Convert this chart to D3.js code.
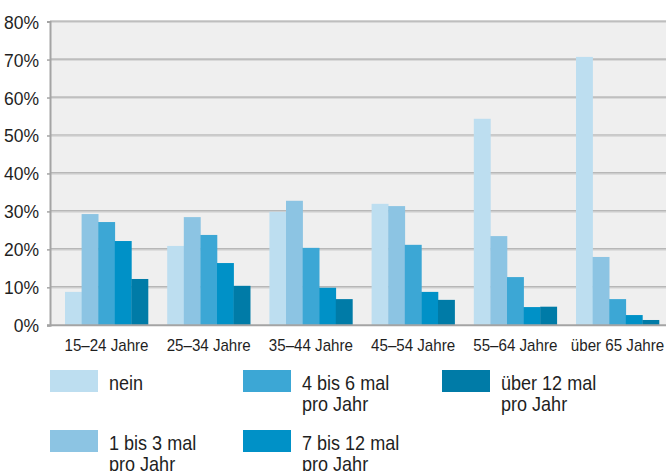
<!DOCTYPE html>
<html>
<head>
<meta charset="utf-8">
<script src="https://cdn.jsdelivr.net/npm/d3@7"></script>
<style>
  html, body { margin: 0; padding: 0; background: #fff; }
  svg { display: block; }
  text { font-family: "Liberation Sans", Arial, sans-serif; }
</style>
</head>
<body>
<svg id="chart" width="666" height="471"></svg>
<script>
// Age groups along the x axis
const categories = ["15–24 Jahre", "25–34 Jahre", "35–44 Jahre", "45–54 Jahre", "55–64 Jahre", "über 65 Jahre"];

// Frequency series (share of respondents per age group)
const seriesKeys = ["nein", "1 bis 3 mal", "4 bis 6 mal", "7 bis 12 mal", "über 12 mal"];
const nein      = [0.088, 0.209, 0.299, 0.320, 0.544, 0.707];
const mal1bis3  = [0.293, 0.285, 0.328, 0.314, 0.235, 0.180];
const mal4bis6  = [0.272, 0.238, 0.204, 0.212, 0.127, 0.069];
const mal7bis12 = [0.222, 0.164, 0.099, 0.088, 0.048, 0.027];
const malUeber12 = [0.122, 0.104, 0.069, 0.067, 0.049, 0.014];
const seriesValues = [nein, mal1bis3, mal4bis6, mal7bis12, malUeber12];

// Legend labels (line-broken)
const legendLabels = [["nein"], ["1 bis 3 mal", "pro Jahr"], ["4 bis 6 mal", "pro Jahr"], ["7 bis 12 mal", "pro Jahr"], ["über 12 mal", "pro Jahr"]];

// Y axis ticks
const yTicks = [0, 0.1, 0.2, 0.3, 0.4, 0.5, 0.6, 0.7, 0.8];

const colors = ["#bddef0", "#8cc4e3", "#3ca7d5", "#0091c7", "#007ba7"];

const svg = d3.select("#chart");

const plotLeft = 50, plotRight = 666, plotTop = 21.6, plotBottom = 325.3;
const condensed = 0.89; // horizontal squeeze for the narrow label face

const y = d3.scaleLinear().domain([0, 0.8]).range([plotBottom, plotTop]);

const x0 = d3.scaleBand()
  .domain(categories)
  .range([55.4, 668.6])
  .paddingInner(0.188)
  .paddingOuter(0.094);

const x1 = d3.scaleBand()
  .domain(seriesKeys)
  .range([0, x0.bandwidth()])
  .padding(0);

const color = d3.scaleOrdinal().domain(seriesKeys).range(colors);

// plot background
svg.append("rect")
  .attr("x", plotLeft).attr("y", plotTop)
  .attr("width", plotRight - plotLeft).attr("height", plotBottom - plotTop)
  .attr("fill", "#efefef");

// gridlines: darker line with a light shadow beneath
const grid = svg.append("g");
grid.selectAll("line.g1").data(yTicks.slice(1)).join("line")
  .attr("class", "g1")
  .attr("x1", plotLeft).attr("x2", plotRight)
  .attr("y1", d => y(d) - 0.5).attr("y2", d => y(d) - 0.5)
  .attr("stroke", "#a4a4a4").attr("stroke-width", 1.2);
grid.selectAll("line.g2").data(yTicks.slice(1)).join("line")
  .attr("class", "g2")
  .attr("x1", plotLeft).attr("x2", plotRight)
  .attr("y1", d => y(d) + 0.7).attr("y2", d => y(d) + 0.7)
  .attr("stroke", "#d2d2d2").attr("stroke-width", 1);

// bars
const rows = categories.map((c, i) => ({ cat: c, vals: seriesKeys.map((k, j) => ({ key: k, value: seriesValues[j][i] })) }));

svg.append("g")
  .selectAll("g")
  .data(rows)
  .join("g")
  .attr("transform", d => `translate(${x0(d.cat)},0)`)
  .selectAll("rect")
  .data(d => d.vals)
  .join("rect")
  .attr("x", d => x1(d.key))
  .attr("width", x1.bandwidth() + 0.3)
  .attr("y", d => y(d.value))
  .attr("height", d => y(0) - y(d.value))
  .attr("fill", d => color(d.key));

// baseline (0%)
svg.append("line")
  .attr("x1", plotLeft - 3).attr("x2", plotRight)
  .attr("y1", plotBottom).attr("y2", plotBottom)
  .attr("stroke", "#a4a4a4").attr("stroke-width", 2);

// y axis
const yAxis = svg.append("g")
  .attr("transform", `translate(${plotLeft},0)`)
  .call(d3.axisLeft(y).tickValues(yTicks).tickFormat(d3.format(".0%")).tickSize(3).tickPadding(8));
yAxis.attr("font-family", null);
yAxis.select(".domain").attr("stroke", "#a4a4a4").attr("stroke-width", 2);
yAxis.selectAll(".tick line").attr("stroke", "#a4a4a4").attr("stroke-width", 1.5);
yAxis.selectAll(".tick text")
  .attr("font-size", 17.5)
  .attr("dy", "0.37em")
  .attr("fill", "#1f1f1f");

// x axis labels
const xAxis = svg.append("g")
  .attr("transform", `translate(0,${plotBottom})`)
  .call(d3.axisBottom(x0).tickSize(0).tickPadding(14));
xAxis.attr("font-family", null);
xAxis.select(".domain").remove();
xAxis.selectAll(".tick text")
  .attr("font-size", 17)
  .attr("transform", `scale(${condensed},1)`)
  .attr("fill", "#1f1f1f");

// legend, filled column by column (two rows)
const legendCols = [50, 243, 442];
const legendRows = [370, 430];
const legend = svg.append("g");
const items = legend.selectAll("g")
  .data(seriesKeys)
  .join("g")
  .attr("transform", (d, i) => `translate(${legendCols[Math.floor(i / 2)]},${legendRows[i % 2]})`);
items.append("rect")
  .attr("width", 48).attr("height", 22)
  .attr("fill", d => color(d));
items.append("g")
  .attr("transform", "translate(59,20)")
  .append("text")
  .attr("transform", `scale(${condensed - 0.01},1)`)
  .attr("font-size", 20.5)
  .attr("fill", "#1f1f1f")
  .selectAll("tspan")
  .data((d, i) => legendLabels[i])
  .join("tspan")
  .attr("x", 0)
  .attr("dy", (d, i) => i === 0 ? 0 : 21)
  .text(d => d);
</script>
</body>
</html>
